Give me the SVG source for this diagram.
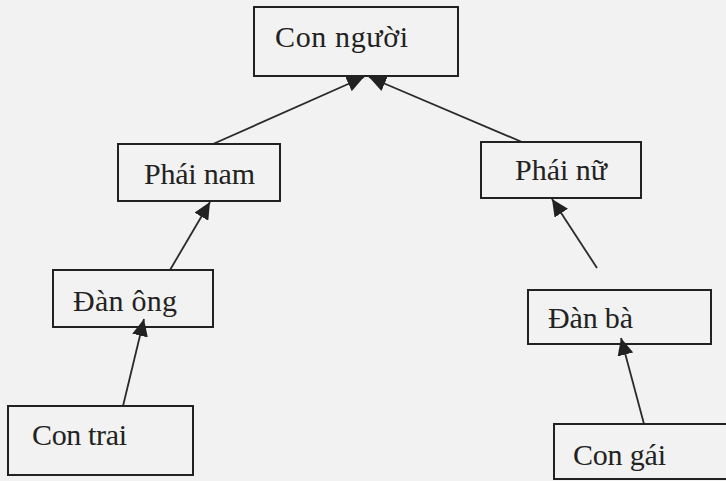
<svg xmlns="http://www.w3.org/2000/svg" width="726" height="481" viewBox="0 0 726 481">
<defs>
<style>
.box{fill:none;stroke:#222;stroke-width:2}
.lbl{font-family:"Liberation Serif","Times New Roman",serif;font-size:30px;fill:#222}
.edge{stroke:#2a2a2a;stroke-width:1.8;fill:none;marker-end:url(#ah)}
</style>
<marker id="ah" markerUnits="userSpaceOnUse" markerWidth="18" markerHeight="16" refX="17" refY="8" orient="auto">
<path d="M0,0 L17,8 L0,16 z" fill="#222"/>
</marker>
</defs>
<rect width="726" height="481" fill="#f2f2f2"/>
<g id="connectors">
<line class="edge" x1="213" y1="144" x2="364" y2="77"/>
<line class="edge" x1="522" y1="142" x2="369" y2="77"/>
<line class="edge" x1="170" y1="270" x2="210" y2="202"/>
<line class="edge" x1="597" y1="268" x2="552" y2="199"/>
<line class="edge" x1="123" y1="406" x2="144" y2="319"/>
<line class="edge" x1="644" y1="424" x2="621" y2="338"/>
</g>
<g id="con-nguoi"><rect class="box" x="254" y="7" width="204" height="69"/><text class="lbl" x="275" y="47" textLength="133">Con người</text></g>
<g id="phai-nam"><rect class="box" x="118" y="144" width="162" height="57"/><text class="lbl" x="144" y="184" textLength="111">Phái nam</text></g>
<g id="phai-nu"><rect class="box" x="481" y="142" width="160" height="56"/><text class="lbl" x="515" y="180" textLength="92">Phái nữ</text></g>
<g id="dan-ong"><rect class="box" x="53" y="270" width="160" height="57"/><text class="lbl" x="73" y="311" textLength="104">Đàn ông</text></g>
<g id="dan-ba"><rect class="box" x="528" y="290" width="183" height="54"/><text class="lbl" x="548" y="328" textLength="85">Đàn bà</text></g>
<g id="con-trai"><rect class="box" x="8" y="406" width="185" height="69"/><text class="lbl" x="32" y="445" textLength="95">Con trai</text></g>
<g id="con-gai"><rect class="box" x="554" y="424" width="200" height="55"/><text class="lbl" x="573" y="465" textLength="93">Con gái</text></g>
</svg>
